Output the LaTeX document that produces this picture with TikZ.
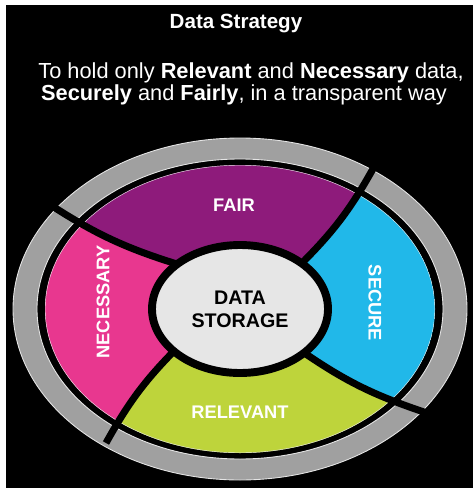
\documentclass[tikz,border=0pt]{standalone}
\usepackage{fontspec}
\setmainfont{Liberation Sans}
\usepackage{tikz}
\usetikzlibrary{
    positioning,
    calc
}

\definecolor{fairpurple}{HTML}{8E1B7B}
\definecolor{securecyan}{HTML}{21B8E9}
\definecolor{relevantlime}{HTML}{BED43B}
\definecolor{necessarypink}{HTML}{E8378F}
\definecolor{ringgray}{HTML}{A0A0A0}
\definecolor{diskgray}{HTML}{E6E6E6}

\tikzset{
    headline/.style={text=white, inner sep=0pt, anchor=base},
    ringlabel/.style={text=white, inner sep=0pt, font=\fontsize{10.4}{12}\selectfont\bfseries},
    gapline/.style={line width=4pt, black},
    rimline/.style={line width=0.5pt, white!80!gray}
}

\begin{document}
\begin{tikzpicture}[x=0.02cm,y=-0.02cm]
            \useasboundingbox (0,0) rectangle (473,490);
            \fill[white] (0,0) rectangle (473,490);
            \fill[black] (6,5) rectangle (473,488);

            \node[headline, font=\fontsize{11.7}{14}\selectfont\bfseries] (title) at (236,29) {Data Strategy};
            \node[headline, font=\fontsize{12.4}{14}\selectfont] (aimone) at (251,78)
                {To hold only \textbf{Relevant} and \textbf{Necessary} data,};
            \node[headline, font=\fontsize{12.4}{14}\selectfont] (aimtwo) at (244,100)
                {\textbf{Securely} and \textbf{Fairly}, in a transparent way};

            % outer ring
            \fill[ringgray, even odd rule] (240,309) ellipse [x radius=227, y radius=171]
                (240,309) ellipse [x radius=203, y radius=150];
            \draw[rimline] (240,309) ellipse [x radius=227, y radius=171];
            \draw[rimline] (240,309) ellipse [x radius=203, y radius=150];

            % four segments
            \begin{scope}
                \clip (240,309) ellipse [x radius=195, y radius=144];
                \fill[fairpurple] (180,265) to[bend left=8] (46,202) -- (20,120) -- (460,120)
                    -- (374,167) to[bend left=8] (300,265) -- cycle;
                \fill[securecyan] (300,265) to[bend right=8] (374,167) -- (460,120) -- (460,480)
                    -- (424,412) to[bend left=8] (300,350) -- cycle;
                \fill[relevantlime] (300,350) to[bend right=8] (424,412) -- (460,480) -- (20,480)
                    -- (106,443) to[bend left=8] (180,345) -- cycle;
                \fill[necessarypink] (180,345) to[bend right=8] (106,443) -- (20,480) -- (20,120)
                    -- (46,202) to[bend right=8] (180,265) -- cycle;
                \draw[rimline] (240,309) ellipse [x radius=195, y radius=144];
            \end{scope}

            \draw[gapline] (180,265) to[bend left=8] (46,202);
            \draw[gapline] (300,265) to[bend right=8] (374,167);
            \draw[gapline] (300,350) to[bend right=8] (424,412);
            \draw[gapline] (180,345) to[bend right=8] (106,443);

            % centre
            \draw[line width=4.5pt, fill=diskgray] (240,309) ellipse [x radius=88, y radius=64];
            \node[align=center, inner sep=0pt, font=\fontsize{11.2}{13}\selectfont\bfseries] (storage) at (240,309)
                {DATA\\STORAGE};

            \node[ringlabel] (fair) at (234,205) {FAIR};
            \node[ringlabel, rotate=-90] (secure) at (375,303) {SECURE};
            \node[ringlabel] (relevant) at (240,412) {RELEVANT};
            \node[ringlabel, rotate=90] (necessary) at (103,302) {NECESSARY};
        \end{tikzpicture}
\end{document}
